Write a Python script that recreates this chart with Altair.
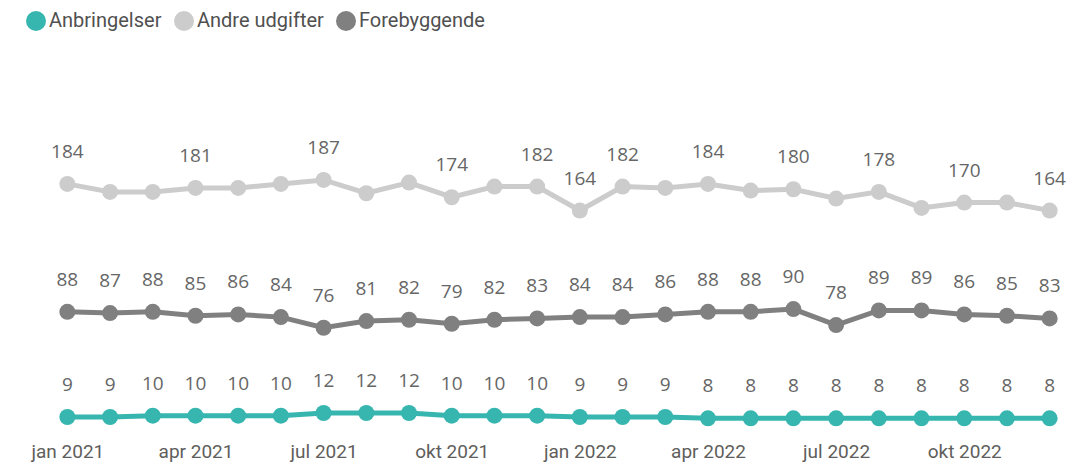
import altair as alt
import pandas as pd

months = [
    "jan 2021", "feb 2021", "mar 2021", "apr 2021", "maj 2021", "jun 2021",
    "jul 2021", "aug 2021", "sep 2021", "okt 2021", "nov 2021", "dec 2021",
    "jan 2022", "feb 2022", "mar 2022", "apr 2022", "maj 2022", "jun 2022",
    "jul 2022", "aug 2022", "sep 2022", "okt 2022", "nov 2022", "dec 2022",
]
tick_labels = ["jan 2021", "apr 2021", "jul 2021", "okt 2021",
               "jan 2022", "apr 2022", "jul 2022", "okt 2022"]

series_names = ["Anbringelser", "Andre udgifter", "Forebyggende"]
series_colors = ["#37B6B0", "#CCCCCC", "#808080"]

anbringelser = [9, 9, 10, 10, 10, 10, 12, 12, 12, 10, 10, 10,
                9, 9, 9, 8, 8, 8, 8, 8, 8, 8, 8, 8]
andre_udgifter = [184, 178, 178, 181, 181, 184, 187, 177, 185, 174, 182, 182,
                  164, 182, 181, 184, 179, 180, 173, 178, 166, 170, 170, 164]
forebyggende = [88, 87, 88, 85, 86, 84, 76, 81, 82, 79, 82, 83,
                84, 84, 86, 88, 88, 90, 78, 89, 89, 86, 85, 83]
# which labels are displayed for "Andre udgifter"
andre_shown = [1, 0, 0, 1, 0, 0, 1, 0, 0, 1, 0, 1,
               1, 1, 0, 1, 0, 1, 0, 1, 0, 1, 0, 1]

rows = []
for i, m in enumerate(months):
    rows.append({"month": m, "series": "Anbringelser", "value": anbringelser[i],
                 "label": str(anbringelser[i])})
    rows.append({"month": m, "series": "Andre udgifter", "value": andre_udgifter[i],
                 "label": str(andre_udgifter[i]) if andre_shown[i] else ""})
    rows.append({"month": m, "series": "Forebyggende", "value": forebyggende[i],
                 "label": str(forebyggende[i])})
df = pd.DataFrame(rows)

x = alt.X("month:O", sort=months,
          scale=alt.Scale(type="point", padding=0.5),
          axis=alt.Axis(values=tick_labels, title=None, labelAngle=0,
                        domain=False, ticks=False, tickSize=0, grid=False,
                        labelFont="Roboto", labelFontSize=19,
                        labelColor="#605E5C", labelPadding=13,
                        labelBaseline="top"))
y = alt.Y("value:Q", scale=alt.Scale(domain=[0, 250], nice=False, zero=True),
          axis=None)
color = alt.Color("series:N",
                  scale=alt.Scale(domain=series_names, range=series_colors),
                  legend=alt.Legend(title=None, orient="none", direction="horizontal",
                                    legendX=-20, legendY=-85,
                                    symbolType="circle", symbolSize=400,
                                    symbolStrokeWidth=0, symbolOpacity=1,
                                    labelFont="Roboto", labelFontSize=20,
                                    labelColor="#505050", labelOffset=3,
                                    columnPadding=12))

base = alt.Chart(df).encode(x=x, y=y, color=color)

lines = base.mark_line(strokeWidth=5)
points = base.mark_point(filled=True, size=256, opacity=1)
texts = base.mark_text(font="Open Sans", fontSize=19, color="#666666",
                       dy=-32, baseline="middle").encode(
    text="label:N", color=alt.value("#666666"))

chart = alt.layer(lines, points, texts).properties(
    width=1025, height=333,
    autosize=alt.AutoSizeParams(type="none"),
    padding={"left": 38, "top": 88, "right": 0, "bottom": 36},
).configure_view(stroke=None)

chart.save("out.html", embed_options={"renderer": "svg", "actions": False})
